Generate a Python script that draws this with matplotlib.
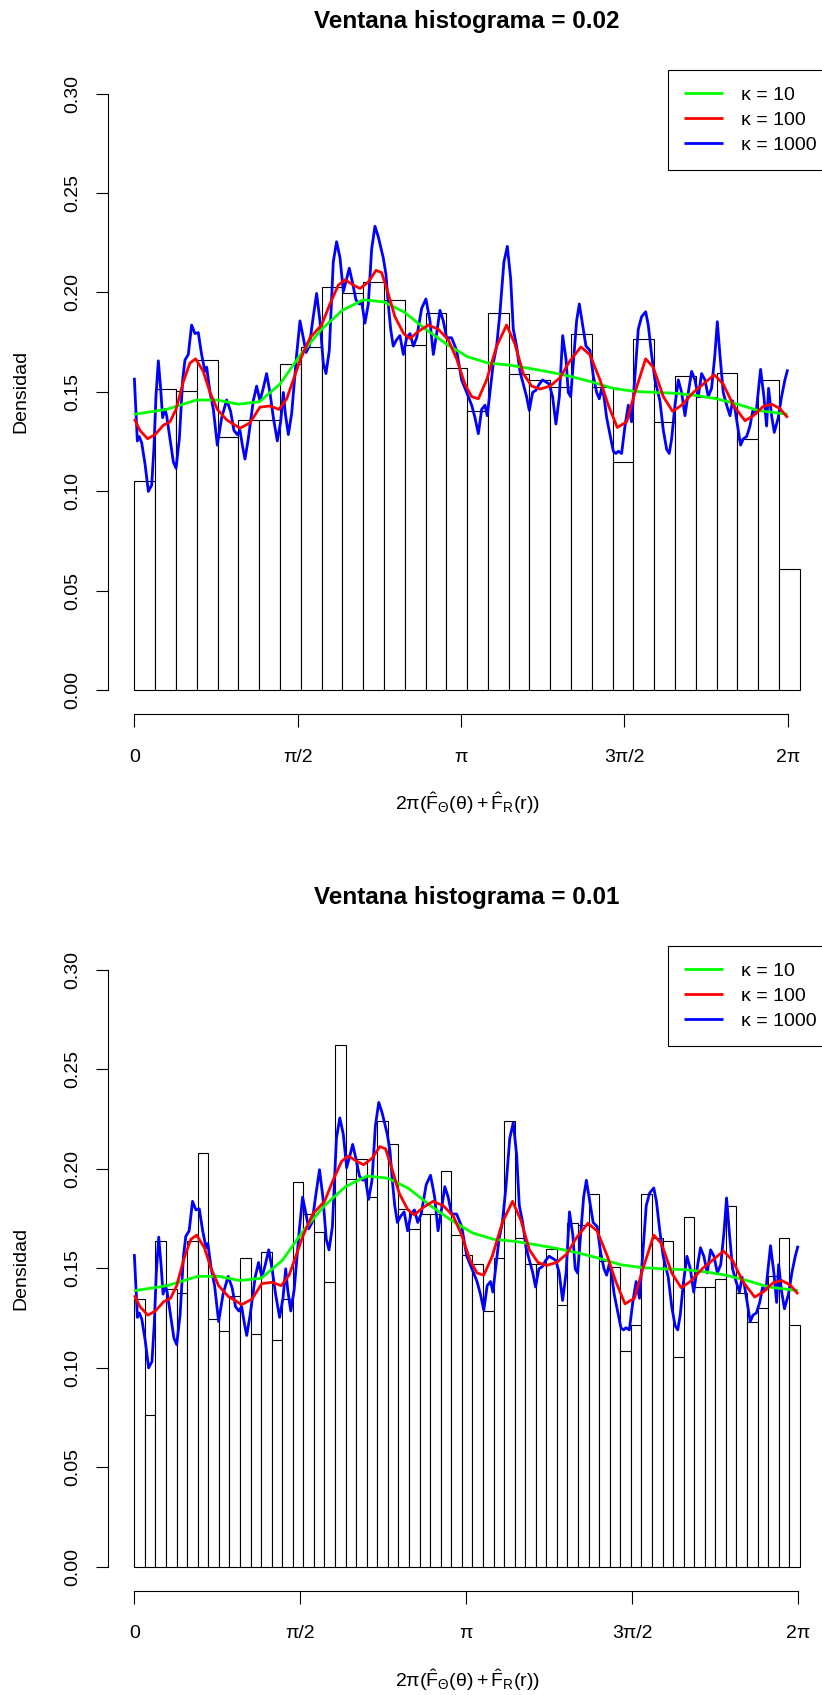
import numpy as np
import matplotlib
matplotlib.use("Agg")
import matplotlib.pyplot as plt

plt.rcParams['font.family'] = ['Liberation Sans', 'DejaVu Sans']
plt.rcParams['mathtext.fontset'] = 'custom'
plt.rcParams['mathtext.rm'] = 'Liberation Sans'
plt.rcParams['mathtext.it'] = 'Liberation Sans:italic'
plt.rcParams['mathtext.bf'] = 'Liberation Sans:bold'

# ---------------------------------------------------------------- data
# histogram densities, bin width 0.2 (window 0.02) and 0.1 (window 0.01)
dens_w002 = [0.1054, 0.1516, 0.1505, 0.1662, 0.1275, 0.1359, 0.1359, 0.1641,
             0.1728, 0.2026, 0.1999, 0.2054, 0.1961, 0.1734, 0.1895, 0.1618,
             0.1406, 0.1895, 0.1590, 0.1560, 0.1522, 0.1791, 0.1522, 0.1148,
             0.1764, 0.1349, 0.1582, 0.1472, 0.1594, 0.1264, 0.1558, 0.0608]
binw_002 = 0.2

dens_w001 = [0.1346, 0.0762, 0.1639, 0.1395, 0.1374, 0.1639, 0.2077, 0.1243,
             0.1185, 0.1359, 0.1550, 0.1171, 0.1579, 0.1141, 0.1346, 0.1931,
             0.1770, 0.1683, 0.1433, 0.2621, 0.1948, 0.2049, 0.1859, 0.2242,
             0.2123, 0.1799, 0.1698, 0.1770, 0.1770, 0.1990, 0.1668, 0.1564,
             0.1522, 0.1287, 0.1550, 0.2242, 0.1653, 0.1522, 0.1522, 0.1596,
             0.1317, 0.1728, 0.1715, 0.1871, 0.1537, 0.1507, 0.1082, 0.1213,
             0.1871, 0.1653, 0.1639, 0.1054, 0.1755, 0.1406, 0.1406, 0.1448,
             0.1814, 0.1376, 0.1228, 0.1302, 0.1463, 0.1653, 0.1213]
binw_001 = 0.1

# kernel density estimates (angle, density) for each concentration
kde_k10 = [(0.000, 0.1387), (0.311, 0.1412), (0.599, 0.1459), (0.798, 0.1459),
           (1.000, 0.1438), (1.202, 0.1450), (1.401, 0.1539), (1.599, 0.1688),
           (1.801, 0.1815), (2.000, 0.1910), (2.202, 0.1963), (2.401, 0.1952),
           (2.599, 0.1900), (2.801, 0.1815), (3.003, 0.1740), (3.202, 0.1677),
           (3.401, 0.1645), (3.600, 0.1635), (3.800, 0.1618), (4.000, 0.1599),
           (4.200, 0.1577), (4.400, 0.1550), (4.600, 0.1518), (4.800, 0.1503),
           (5.000, 0.1497), (5.200, 0.1493), (5.400, 0.1482), (5.600, 0.1465),
           (5.800, 0.1438), (6.000, 0.1406), (6.283, 0.1387)]

kde_k100 = [(0.000, 0.1364), (0.054, 0.1306), (0.128, 0.1264), (0.199, 0.1285),
            (0.279, 0.1332), (0.343, 0.1349), (0.401, 0.1412), (0.471, 0.1550),
            (0.535, 0.1645), (0.590, 0.1666), (0.663, 0.1603), (0.728, 0.1497),
            (0.798, 0.1412), (0.888, 0.1359), (1.016, 0.1317), (1.112, 0.1344),
            (1.208, 0.1423), (1.304, 0.1429), (1.391, 0.1412), (1.465, 0.1465),
            (1.529, 0.1560), (1.599, 0.1666), (1.689, 0.1772), (1.801, 0.1836),
            (1.881, 0.1942), (1.962, 0.2037), (2.026, 0.2064), (2.106, 0.2037),
            (2.170, 0.2020), (2.250, 0.2052), (2.324, 0.2111), (2.378, 0.2100),
            (2.442, 0.1994), (2.506, 0.1878), (2.590, 0.1793), (2.651, 0.1768),
            (2.731, 0.1804), (2.827, 0.1836), (2.923, 0.1815), (3.019, 0.1762),
            (3.099, 0.1666), (3.179, 0.1539), (3.244, 0.1476), (3.308, 0.1465),
            (3.388, 0.1560), (3.484, 0.1730), (3.580, 0.1836), (3.660, 0.1740),
            (3.740, 0.1592), (3.821, 0.1529), (3.901, 0.1514), (3.998, 0.1529),
            (4.093, 0.1571), (4.189, 0.1656), (4.295, 0.1726), (4.381, 0.1687),
            (4.478, 0.1560), (4.558, 0.1433), (4.644, 0.1321), (4.734, 0.1349),
            (4.814, 0.1497), (4.917, 0.1666), (4.990, 0.1624), (5.087, 0.1476),
            (5.176, 0.1402), (5.263, 0.1433), (5.375, 0.1497), (5.471, 0.1539),
            (5.577, 0.1586), (5.663, 0.1539), (5.760, 0.1433), (5.872, 0.1355),
            (5.952, 0.1380), (6.048, 0.1427), (6.128, 0.1438), (6.208, 0.1416),
            (6.283, 0.1370)]

kde_k1000 = [(0.000, 0.1571), (0.029, 0.1253), (0.048, 0.1275), (0.071, 0.1243),
             (0.103, 0.1137), (0.135, 0.0999), (0.167, 0.1031), (0.189, 0.1222),
             (0.208, 0.1476), (0.231, 0.1656), (0.253, 0.1518), (0.272, 0.1370),
             (0.295, 0.1412), (0.311, 0.1380), (0.343, 0.1264), (0.375, 0.1148),
             (0.401, 0.1116), (0.433, 0.1264), (0.465, 0.1560), (0.487, 0.1660),
             (0.519, 0.1688), (0.551, 0.1836), (0.583, 0.1793), (0.615, 0.1798),
             (0.647, 0.1688), (0.679, 0.1603), (0.696, 0.1624), (0.728, 0.1497),
             (0.760, 0.1412), (0.798, 0.1232), (0.840, 0.1370), (0.888, 0.1459),
             (0.926, 0.1402), (0.958, 0.1306), (0.990, 0.1285), (1.016, 0.1306),
             (1.042, 0.1222), (1.064, 0.1162), (1.096, 0.1264), (1.144, 0.1455),
             (1.176, 0.1529), (1.208, 0.1455), (1.240, 0.1518), (1.272, 0.1592),
             (1.304, 0.1497), (1.337, 0.1370), (1.375, 0.1253), (1.407, 0.1349),
             (1.433, 0.1497), (1.452, 0.1391), (1.481, 0.1285), (1.513, 0.1391),
             (1.561, 0.1688), (1.593, 0.1857), (1.625, 0.1772), (1.651, 0.1698),
             (1.683, 0.1730), (1.715, 0.1857), (1.753, 0.1995), (1.785, 0.1857),
             (1.817, 0.1645), (1.843, 0.1592), (1.875, 0.1709), (1.913, 0.2153),
             (1.945, 0.2255), (1.978, 0.2174), (2.010, 0.2005), (2.042, 0.2069),
             (2.067, 0.2122), (2.099, 0.2047), (2.131, 0.1963), (2.163, 0.1942),
             (2.186, 0.1952), (2.218, 0.1846), (2.250, 0.1942), (2.282, 0.2217),
             (2.314, 0.2333), (2.346, 0.2280), (2.394, 0.2174), (2.420, 0.2090),
             (2.442, 0.1942), (2.465, 0.1815), (2.490, 0.1730), (2.522, 0.1762),
             (2.554, 0.1783), (2.587, 0.1688), (2.619, 0.1772), (2.651, 0.1793),
             (2.683, 0.1730), (2.715, 0.1772), (2.763, 0.1920), (2.804, 0.1967),
             (2.843, 0.1857), (2.875, 0.1688), (2.907, 0.1793), (2.939, 0.1910),
             (2.971, 0.1857), (3.003, 0.1772), (3.051, 0.1772), (3.099, 0.1709),
             (3.147, 0.1560), (3.196, 0.1497), (3.244, 0.1433), (3.276, 0.1370),
             (3.308, 0.1289), (3.340, 0.1412), (3.372, 0.1433), (3.394, 0.1380),
             (3.420, 0.1497), (3.452, 0.1645), (3.484, 0.1730), (3.516, 0.1899),
             (3.554, 0.2153), (3.587, 0.2232), (3.619, 0.2069), (3.644, 0.1815),
             (3.676, 0.1730), (3.708, 0.1603), (3.740, 0.1539), (3.772, 0.1476),
             (3.798, 0.1406), (3.830, 0.1497), (3.862, 0.1508), (3.894, 0.1539),
             (3.926, 0.1560), (3.958, 0.1550), (3.990, 0.1539), (4.022, 0.1476),
             (4.054, 0.1338), (4.087, 0.1476), (4.119, 0.1783), (4.151, 0.1666),
             (4.173, 0.1497), (4.196, 0.1476), (4.221, 0.1645), (4.253, 0.1857),
             (4.279, 0.1942), (4.311, 0.1836), (4.343, 0.1730), (4.381, 0.1709),
             (4.413, 0.1582), (4.446, 0.1497), (4.471, 0.1465), (4.494, 0.1518),
             (4.516, 0.1476), (4.542, 0.1370), (4.574, 0.1285), (4.606, 0.1201),
             (4.631, 0.1190), (4.654, 0.1201), (4.686, 0.1190), (4.718, 0.1328),
             (4.750, 0.1433), (4.782, 0.1349), (4.814, 0.1582), (4.846, 0.1815),
             (4.878, 0.1878), (4.917, 0.1903), (4.942, 0.1836), (4.974, 0.1688),
             (5.006, 0.1560), (5.054, 0.1455), (5.087, 0.1306), (5.119, 0.1211),
             (5.144, 0.1190), (5.167, 0.1264), (5.199, 0.1433), (5.231, 0.1560),
             (5.263, 0.1497), (5.295, 0.1380), (5.327, 0.1497), (5.359, 0.1603),
             (5.391, 0.1560), (5.423, 0.1476), (5.455, 0.1592), (5.487, 0.1560),
             (5.519, 0.1476), (5.551, 0.1518), (5.583, 0.1688), (5.606, 0.1853),
             (5.631, 0.1688), (5.663, 0.1497), (5.696, 0.1433), (5.728, 0.1380),
             (5.753, 0.1455), (5.776, 0.1412), (5.808, 0.1306), (5.830, 0.1232),
             (5.856, 0.1264), (5.888, 0.1275), (5.920, 0.1328), (5.946, 0.1402),
             (5.978, 0.1391), (6.022, 0.1613), (6.054, 0.1476), (6.080, 0.1328),
             (6.099, 0.1518), (6.128, 0.1380), (6.154, 0.1296), (6.192, 0.1370),
             (6.224, 0.1476), (6.256, 0.1560), (6.283, 0.1613)]

curve_labels = ['κ = 10', 'κ = 100', 'κ = 1000']
curve_colors = ['#00FF00', '#FF0000', '#0000FF']

xtick_vals = [0, np.pi / 2, np.pi, 3 * np.pi / 2, 2 * np.pi]
xtick_labels = ['0', 'π/2', 'π', '3π/2', '2π']
ytick_vals = [0.00, 0.05, 0.10, 0.15, 0.20, 0.25, 0.30]

xlabel = r'$2\mathrm{\pi}(\hat{\mathrm{F}}_{\Theta}(\mathrm{\theta})+\hat{\mathrm{F}}_{\mathrm{R}}(\mathrm{r}))$'

# ---------------------------------------------------------------- figure
W, H, DPI = 822, 1695, 100
fig = plt.figure(figsize=(W / DPI, H / DPI), dpi=DPI)


def axes_px(left, top, right, bottom):
    return fig.add_axes([left / W, 1 - bottom / H, (right - left) / W, (bottom - top) / H])


def draw_panel(ax, dens, binw, title):
    edges = np.arange(len(dens) + 1) * binw
    ax.bar(edges[:-1], dens, width=binw, align='edge', facecolor='white',
           edgecolor='black', linewidth=0.8, zorder=1)

    handles = []
    for pts, col, lab in zip([kde_k10, kde_k100, kde_k1000], curve_colors, curve_labels):
        t, d = zip(*pts)
        ln, = ax.plot(t, d, color=col, lw=2.0, label=lab,
                      solid_joinstyle='round', solid_capstyle='butt')
        handles.append(ln)
    # stacking: blue under green under red
    handles[2].set_zorder(2)
    handles[0].set_zorder(3)
    handles[1].set_zorder(4)

    span = edges[-1]
    ax.set_xlim(-0.04 * span, span * 1.04)
    ax.set_ylim(-0.012, 0.312)

    for s in ['top', 'right']:
        ax.spines[s].set_visible(False)
    ax.spines['left'].set_bounds(0, 0.30)
    ax.spines['bottom'].set_bounds(0, 2 * np.pi)
    for s in ['left', 'bottom']:
        ax.spines[s].set_linewidth(0.8)

    ax.set_xticks(xtick_vals, xtick_labels)
    ax.set_yticks(ytick_vals, [f'{v:.2f}' for v in ytick_vals])
    ax.tick_params(axis='both', direction='out', length=9, width=0.8, labelsize=14)
    ax.tick_params(axis='x', pad=16)
    ax.tick_params(axis='y', pad=10, labelrotation=90)
    for lab in ax.get_yticklabels():
        lab.set_va('center')

    ax.set_title(title, fontsize=17.5, fontweight='bold', pad=30)
    ax.set_ylabel('Densidad', fontsize=14)
    ax.yaxis.set_label_coords(-0.1085, 0.5)
    ax.set_xlabel(xlabel, fontsize=14)
    ax.xaxis.set_label_coords(0.5, -0.118)

    leg = ax.legend(handles, curve_labels, loc='upper right',
                    bbox_to_anchor=(1.0085, 1), bbox_transform=ax.transAxes,
                    borderaxespad=0, frameon=True, fancybox=False,
                    edgecolor='black', framealpha=1, fontsize=14,
                    handlelength=2.0, handletextpad=0.9, labelspacing=0.38,
                    borderpad=0.83)
    leg.get_frame().set_linewidth(0.8)


ax_top = axes_px(107.7, 69.8, 826.5, 713.9)
draw_panel(ax_top, dens_w002, binw_002, 'Ventana histograma = 0.02')

ax_bot = axes_px(107.7, 945.8, 826.5, 1590.6)
draw_panel(ax_bot, dens_w001, binw_001, 'Ventana histograma = 0.01')

fig.savefig('out.png', dpi=DPI, facecolor='white')
